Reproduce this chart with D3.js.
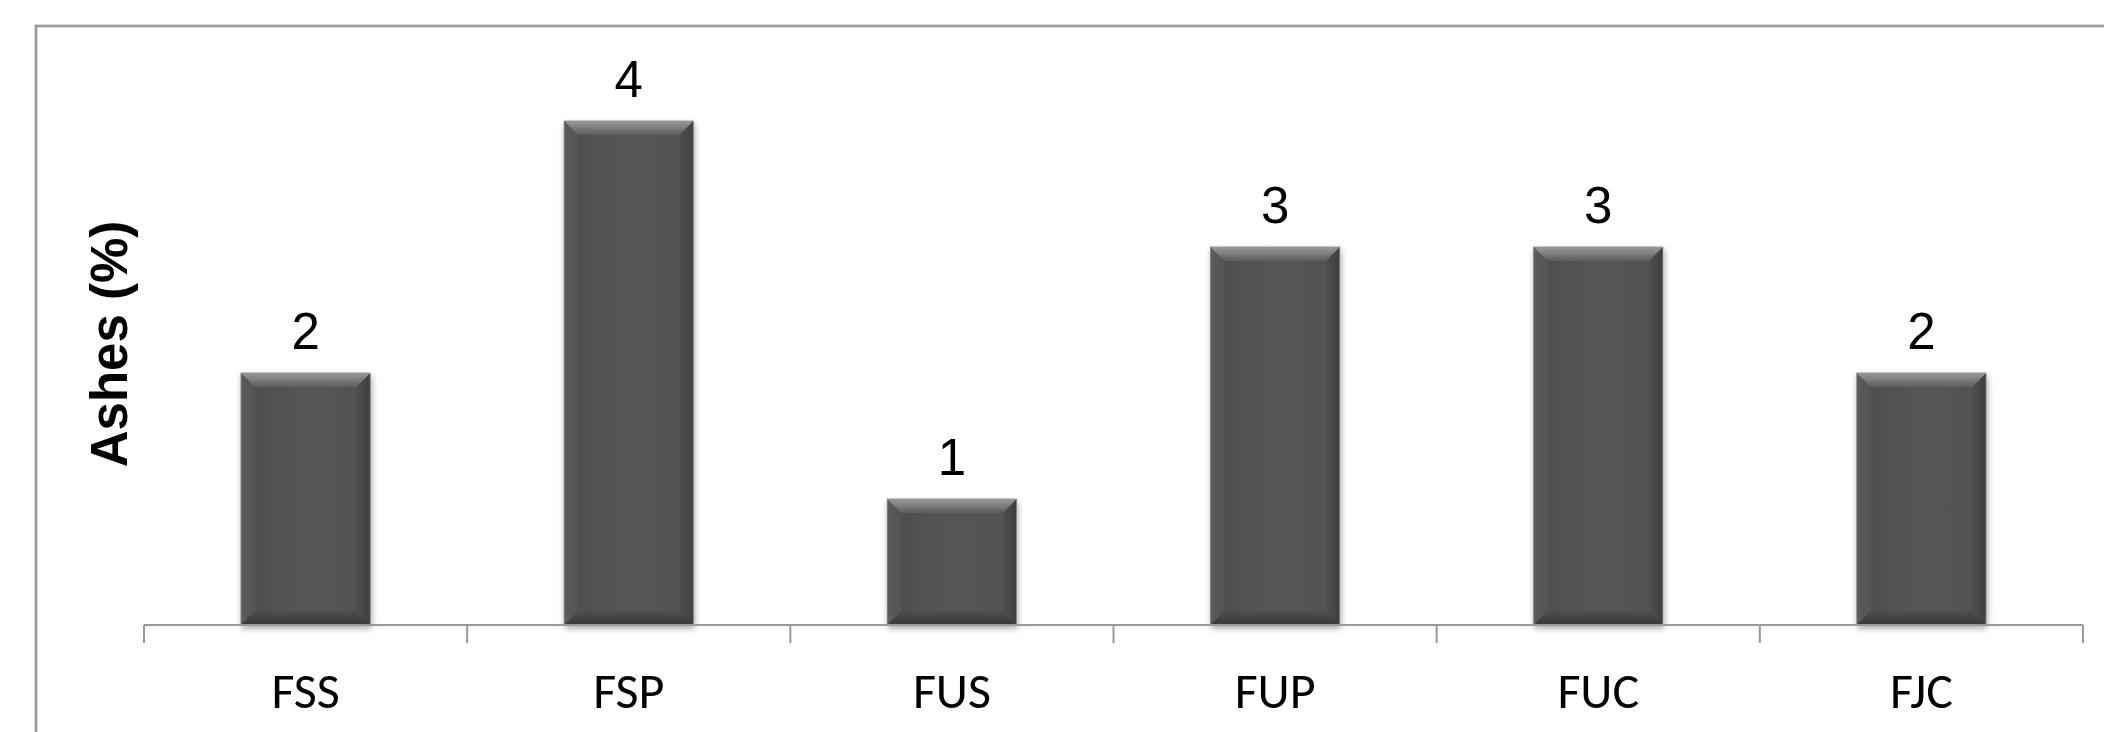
<!DOCTYPE html>
<html>
<head>
<meta charset="utf-8">
<script src="https://cdn.jsdelivr.net/npm/d3@7"></script>
<style>
  html, body { margin: 0; padding: 0; background: #fff; }
  svg { display: block; }
</style>
</head>
<body>
<script>
// Ash content per sample
const categories = ["FSS", "FSP", "FUS", "FUP", "FUC", "FJC"];
const values = [2, 4, 1, 3, 3, 2];
const yTitle = "Ashes (%)";

const W = 2104, H = 732;
const svg = d3.select("body").append("svg").attr("width", W).attr("height", H);

const x = d3.scaleBand().domain(categories).range([144, 2083])
  .paddingInner(0.6).paddingOuter(0.3);
const y = d3.scaleLinear().domain([0, 4.5]).range([625, 58]);

const defs = svg.append("defs");
function grad(id, x1, y1, x2, y2, stops) {
  const g = defs.append("linearGradient").attr("id", id)
    .attr("x1", x1).attr("y1", y1).attr("x2", x2).attr("y2", y2);
  stops.forEach(([o, c]) => g.append("stop").attr("offset", o).attr("stop-color", c));
}
// bar body and facet shading
grad("body", 0, 0, 1, 0, [[0, "#4e4e4e"], [0.5, "#555555"], [1, "#525252"]]);
grad("topG", 0, 0, 0, 1, [[0, "#9a9a9a"], [1, "#5c5c5c"]]);
grad("leftG", 0, 0, 1, 0, [[0, "#5c5c5c"], [1, "#545454"]]);
grad("rightG", 0, 0, 1, 0, [[0, "#505050"], [1, "#3e3e3e"]]);
grad("botG", 0, 0, 0, 1, [[0, "#4e4e4e"], [1, "#383838"]]);

const shadow = defs.append("filter").attr("id", "shadow").attr("x", "-20%").attr("y", "-20%").attr("width", "140%").attr("height", "140%");
shadow.append("feGaussianBlur").attr("in", "SourceAlpha").attr("stdDeviation", 3);
shadow.append("feOffset").attr("dx", 1).attr("dy", 3).attr("result", "b");
shadow.append("feComponentTransfer").append("feFuncA").attr("type", "linear").attr("slope", 0.35);
const m = shadow.append("feMerge");
m.append("feMergeNode");
m.append("feMergeNode").attr("in", "SourceGraphic");

// outer chart frame
svg.append("rect").attr("x", 36).attr("y", 26).attr("width", 2300).attr("height", 900)
  .attr("fill", "none").attr("stroke", "#d8d8d8").attr("stroke-width", 4);
svg.append("rect").attr("x", 36).attr("y", 26).attr("width", 2300).attr("height", 900)
  .attr("fill", "none").attr("stroke", "#9c9c9c").attr("stroke-width", 2);

// bars with bevelled edges
const bev = 14;
const bars = svg.append("g").selectAll("g").data(categories).join("g")
  .attr("filter", "url(#shadow)");
bars.each(function(c, i) {
  const g = d3.select(this);
  const x0 = x(c), x1 = x(c) + x.bandwidth();
  const y0 = y(values[i]), y1 = y(0);
  g.append("rect").attr("x", x0).attr("y", y0).attr("width", x1 - x0).attr("height", y1 - y0)
    .attr("fill", "url(#body)");
  g.append("polygon").attr("points", [[x0, y0], [x0 + bev, y0 + bev], [x0 + bev, y1 - bev], [x0, y1]].join(" "))
    .attr("fill", "url(#leftG)");
  g.append("polygon").attr("points", [[x1, y0], [x1 - bev, y0 + bev], [x1 - bev, y1 - bev], [x1, y1]].join(" "))
    .attr("fill", "url(#rightG)");
  g.append("polygon").attr("points", [[x0, y1], [x0 + bev, y1 - bev], [x1 - bev, y1 - bev], [x1, y1]].join(" "))
    .attr("fill", "url(#botG)");
  g.append("polygon").attr("points", [[x0, y0], [x1, y0], [x1 - bev, y0 + bev], [x0 + bev, y0 + bev]].join(" "))
    .attr("fill", "url(#topG)");
  g.append("rect").attr("x", x0).attr("y", y0).attr("width", x1 - x0).attr("height", y1 - y0)
    .attr("fill", "none").attr("stroke", "#8c8c8c").attr("stroke-width", 1).attr("stroke-opacity", 0.8);
});

// value labels
svg.append("g").selectAll("text").data(categories).join("text")
  .attr("x", c => x(c) + x.bandwidth() / 2)
  .attr("y", (c, i) => y(values[i]) - 24)
  .attr("text-anchor", "middle")
  .attr("font-family", "Arial, 'Liberation Sans', sans-serif")
  .attr("font-size", 51)
  .attr("fill", "#000")
  .text((c, i) => values[i]);

// category axis
const axis = svg.append("g").attr("transform", `translate(0,${y(0)})`);
const r0 = x.range()[0], step = x.step();
axis.append("line").attr("x1", r0).attr("x2", x.range()[1]).attr("y1", 0).attr("y2", 0)
  .attr("stroke", "#999").attr("stroke-width", 2);
axis.selectAll("line.tick").data(d3.range(categories.length + 1)).join("line")
  .attr("class", "tick")
  .attr("x1", i => r0 + i * step).attr("x2", i => r0 + i * step)
  .attr("y1", 0).attr("y2", 18)
  .attr("stroke", "#999").attr("stroke-width", 2);
axis.selectAll("text").data(categories).join("text")
  .attr("x", c => x(c) + x.bandwidth() / 2)
  .attr("y", 83)
  .attr("text-anchor", "middle")
  .attr("font-family", "Carlito, Lato, sans-serif")
  .attr("font-size", 50)
  .attr("fill", "#000")
  .text(c => c);

// y-axis title
svg.append("text")
  .attr("transform", "translate(127,344) rotate(-90)")
  .attr("text-anchor", "middle")
  .attr("font-family", "Arial, 'Liberation Sans', sans-serif")
  .attr("font-weight", "bold")
  .attr("font-size", 51)
  .attr("fill", "#000")
  .text(yTitle);
</script>
</body>
</html>
